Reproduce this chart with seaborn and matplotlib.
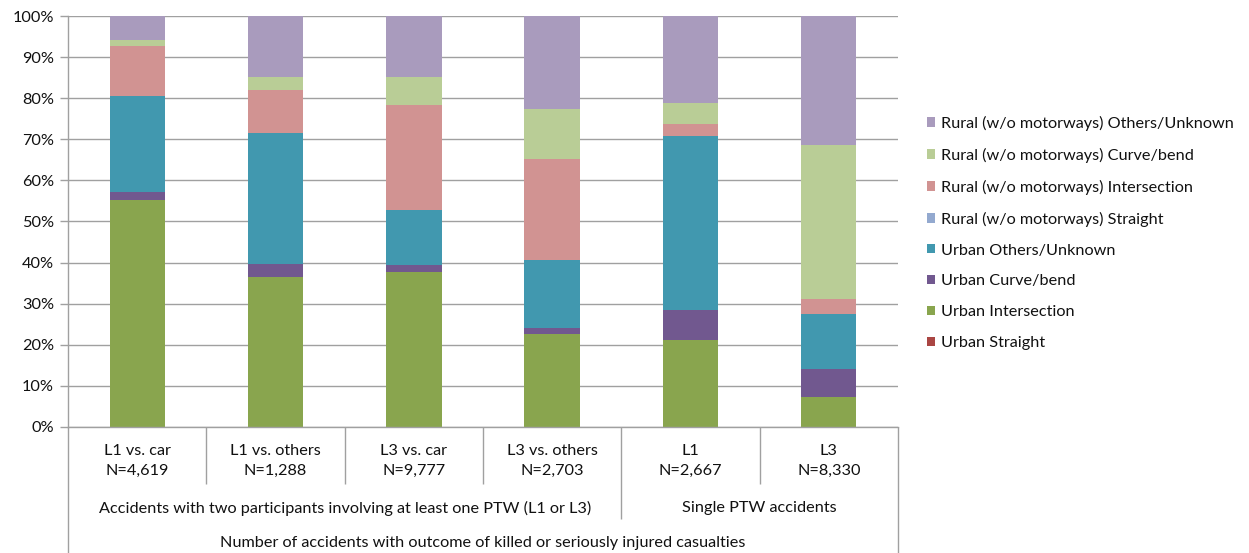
import matplotlib
matplotlib.use("Agg")
import matplotlib.pyplot as plt
import matplotlib.ticker as mticker
from matplotlib.patches import Patch
import pandas as pd
import seaborn as sns

# --- data -----------------------------------------------------------------
categories = ["L1 vs. car", "L1 vs. others", "L3 vs. car", "L3 vs. others", "L1", "L3"]
sample_sizes = ["N=4,619", "N=1,288", "N=9,777", "N=2,703", "N=2,667", "N=8,330"]
group_labels = [
    "Accidents with two participants involving at least one PTW (L1 or L3)",
    "Single PTW accidents",
]
axis_title = "Number of accidents with outcome of killed or seriously injured casualties"

# shares (%) per accident type, one value per category
urban_straight = [0.0, 0.0, 0.0, 0.0, 0.0, 0.0]
urban_intersection = [55.3, 36.6, 37.7, 22.6, 21.1, 7.3]
urban_curve = [1.8, 3.0, 1.6, 1.6, 7.3, 6.9]
urban_others = [23.5, 32.0, 13.5, 16.5, 42.5, 13.4]
rural_straight = [0.0, 0.0, 0.0, 0.0, 0.0, 0.0]
rural_intersection = [12.2, 10.5, 25.5, 24.4, 2.8, 3.5]
rural_curve = [1.3, 3.1, 6.9, 12.2, 5.1, 37.5]
rural_others = [5.8, 14.8, 14.8, 22.7, 21.2, 31.4]

# legend order (top of the stack first)
series = {
    "Rural (w/o motorways) Others/Unknown": rural_others,
    "Rural (w/o motorways) Curve/bend": rural_curve,
    "Rural (w/o motorways) Intersection": rural_intersection,
    "Rural (w/o motorways) Straight": rural_straight,
    "Urban Others/Unknown": urban_others,
    "Urban Curve/bend": urban_curve,
    "Urban Intersection": urban_intersection,
    "Urban Straight": urban_straight,
}
colors = ["#A99BBD", "#B9CD96", "#D19392", "#93A9CF",
          "#4198AF", "#71588F", "#89A54E", "#AA4643"]

rows = []
for name, vals in series.items():
    for i, v in enumerate(vals):
        rows.append({"pos": i, "share": v, "type": name})
df = pd.DataFrame(rows)

# --- style ----------------------------------------------------------------
sns.set_theme(style="white")
plt.rcParams["font.family"] = ["Lato", "DejaVu Sans"]
text_color = "#111111"
line_color = "#A0A0A0"
fs = 11.7

fig = plt.figure(figsize=(12.49, 5.53), dpi=100)
ax = fig.add_axes([68 / 1249, 1 - 427 / 553, (898 - 68) / 1249, (427 - 16) / 553])

palette = dict(zip(series.keys(), colors))
sns.histplot(
    data=df, x="pos", weights="share", hue="type", hue_order=list(series.keys()),
    multiple="stack", discrete=True, shrink=0.4, palette=palette,
    alpha=1, linewidth=0, legend=False, ax=ax,
)

ax.set_xlim(-0.5, len(categories) - 0.5)
ax.set_ylim(0, 100)
ax.set_yticks(range(0, 101, 10))
ax.yaxis.set_major_formatter(mticker.FuncFormatter(lambda v, _: f"{v:.0f}%"))
ax.set_xticks([])
ax.set_xlabel("")
ax.set_ylabel("")
ax.yaxis.grid(True, color=line_color, linewidth=1)
ax.set_axisbelow(True)
ax.tick_params(axis="y", which="major", left=True, length=6, width=1,
               color=line_color, labelsize=fs, labelcolor=text_color, pad=4)
for side in ("top", "right"):
    ax.spines[side].set_visible(False)
for side in ("left", "bottom"):
    ax.spines[side].set_color(line_color)
    ax.spines[side].set_linewidth(1)

# --- multi-level category axis ---------------------------------------------
tr = ax.get_xaxis_transform()
axis_px = 427 - 16


def frac(px_below):
    return -px_below / axis_px


n = len(categories)
bounds = [i - 0.5 for i in range(n + 1)]
for b in bounds:
    if b in (-0.5, n - 0.5):
        end = frac(553 - 427 + 2)
    elif b == 3.5:
        end = frac(519 - 427)
    else:
        end = frac(484 - 427)
    ax.plot([b, b], [0, end], transform=tr, color=line_color, lw=1,
            clip_on=False, solid_capstyle="butt")

for i, (cat, n_txt) in enumerate(zip(categories, sample_sizes)):
    ax.text(i, frac(461 - 427), f"{cat}\n{n_txt}", transform=tr, ha="center",
            va="center", fontsize=fs, color=text_color, linespacing=1.55)

ax.text(1.5, frac(508 - 427), group_labels[0], transform=tr, ha="center",
        va="center", fontsize=fs, color=text_color)
ax.text(4.5, frac(508 - 427), group_labels[1], transform=tr, ha="center",
        va="center", fontsize=fs, color=text_color)
ax.text(2.5, frac(543 - 427), axis_title, transform=tr, ha="center",
        va="center", fontsize=fs, color=text_color)

# --- legend ---------------------------------------------------------------
handles = [Patch(facecolor=c, edgecolor="none") for c in colors]
fig.legend(handles, list(series.keys()), loc="center left",
           bbox_to_anchor=(927 / 1249, 1 - 233 / 553), frameon=False,
           fontsize=fs, handlelength=0.5, handleheight=0.5,
           handletextpad=0.35, labelspacing=1.04, borderpad=0,
           borderaxespad=0, labelcolor=text_color)

fig.savefig("out.png", dpi=100)
